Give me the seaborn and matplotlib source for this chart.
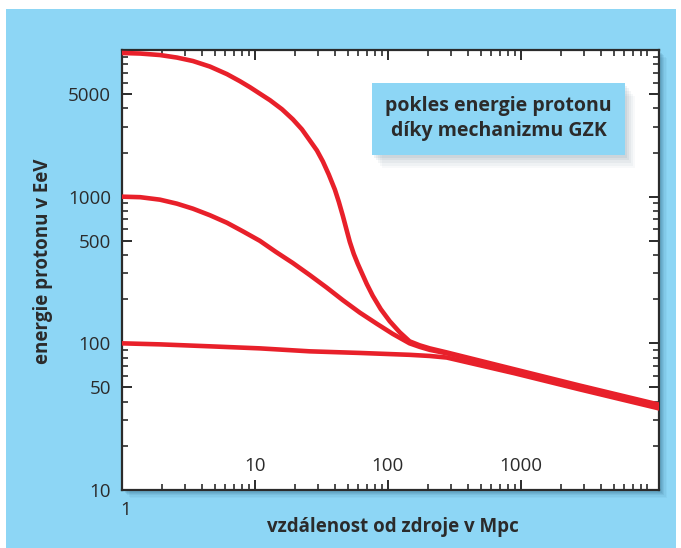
import matplotlib
matplotlib.use("Agg")
import matplotlib.pyplot as plt
import matplotlib.patches as mpatches
import matplotlib.transforms as mtransforms
import seaborn as sns
import numpy as np
import pandas as pd

# hodnoty (vzdálenost v Mpc, energie v EeV)
dist_top = [1, 1.37, 1.93, 2.59, 3.42, 4.59, 6.16, 7.71, 9.17, 10.9, 13, 16, 19.3,
            22.6, 25.9, 29.3, 32.5, 36, 40, 42.8, 45.9, 49.2, 51.8, 55.5, 59.5,
            63.8, 69.5, 77.1, 88.6, 103.5, 123, 146, 174, 207, 278, 900, 2770, 11000]
e_top = [9540, 9460, 9240, 8880, 8410, 7710, 6850, 6130, 5580, 5040, 4545, 3944, 3369,
         2877, 2419, 2066, 1737, 1415, 1117, 924, 741, 585, 492, 407, 348,
         302, 254, 211, 171, 141.5, 119, 103.2, 96.9, 92.4, 86.7, 66.5, 51.6, 38.2]

dist_mid = [1, 1.37, 1.93, 2.59, 3.42, 4.59, 6.16, 8.13, 10.9, 14.4, 19.3, 25.9,
            34.7, 45.9, 61.6, 82.7, 109, 146, 174, 207, 278, 900, 2770, 11000]
e_mid = [1000, 992, 954, 896, 828, 747, 664, 580, 500, 420, 353, 292,
         240, 197, 162, 136, 116, 100, 94.6, 90.3, 85.5, 65.5, 50.8, 37.6]

dist_low = [1, 1.93, 4.6, 10.9, 25.9, 61.6, 146, 207, 278, 900, 2770, 11000]
e_low = [100, 98.4, 95.4, 92.4, 88.2, 86, 83.5, 82, 80, 62.5, 48.6, 36.0]

x_ticks = [10, 100, 1000]
y_ticks = [10, 50, 100, 500, 1000, 5000]

BLUE = "#8dd6f5"
RED = "#e8202a"
INK = "#2b2b2b"

df = pd.concat([
    pd.DataFrame({"dist": dist_top, "energy": e_top, "start": "10000"}),
    pd.DataFrame({"dist": dist_mid, "energy": e_mid, "start": "1000"}),
    pd.DataFrame({"dist": dist_low, "energy": e_low, "start": "100"}),
])

sns.set_style("ticks")
plt.rcParams["font.family"] = ["Open Sans", "DejaVu Sans"]

fig = plt.figure(figsize=(6.81, 5.48), dpi=100)
fig.patch.set_facecolor("white")

# modré pozadí
fig.patches.append(mpatches.Rectangle((6 / 681, 0), 670 / 681, 539 / 548,
                                      transform=fig.transFigure, facecolor=BLUE,
                                      edgecolor="none", zorder=-10))

ax_box = [122 / 681, 1 - 490 / 548, 537 / 681, 440 / 548]

# stín pod grafem
for i, a in enumerate([0.10, 0.10, 0.09, 0.08, 0.06, 0.04]):
    off = (i + 1) * 1.3
    fig.patches.append(mpatches.Rectangle(
        (ax_box[0] + off / 681, ax_box[1] - off / 548), ax_box[2], ax_box[3],
        transform=fig.transFigure, facecolor="#1d4f6e", alpha=a,
        edgecolor="none", zorder=-5))

ax = fig.add_axes(ax_box)
ax.set_facecolor("white")

sns.lineplot(data=df, x="dist", y="energy", hue="start",
             palette=[RED, RED, RED], estimator=None, sort=False,
             linewidth=3.3, legend=False, ax=ax, zorder=3)
for ln in ax.get_lines():
    ln.set_solid_joinstyle("round")
    ln.set_solid_capstyle("round")

ax.set_xscale("log")
ax.set_yscale("log")
ax.set_xlim(1, 11000)
ax.set_ylim(10, 10000)

for s in ax.spines.values():
    s.set_visible(True)
    s.set_color(INK)
    s.set_linewidth(1.6)

ax.set_xticks(x_ticks)
ax.set_xticklabels([str(v) for v in x_ticks])
ax.set_yticks(y_ticks)
ax.set_yticklabels([str(v) for v in y_ticks])
ax.xaxis.set_minor_locator(matplotlib.ticker.LogLocator(base=10, subs=np.arange(2, 10)))
ax.yaxis.set_minor_locator(matplotlib.ticker.LogLocator(base=10, subs=np.arange(2, 10)))
ax.xaxis.set_minor_formatter(matplotlib.ticker.NullFormatter())
ax.yaxis.set_minor_formatter(matplotlib.ticker.NullFormatter())

ax.tick_params(which="both", direction="in", top=True, right=True, color=INK,
               labelcolor=INK, labelsize=13.5)
ax.tick_params(which="major", length=7, width=1.4)
ax.tick_params(which="minor", length=4, width=1.2)
ax.tick_params(axis="x", pad=-24)
ax.tick_params(axis="y", pad=8)

# popisek "1" pod osou
ax.text(1.06, -0.025, "1", transform=mtransforms.blended_transform_factory(ax.transData, ax.transAxes),
        ha="center", va="top", fontsize=13.5, color=INK)

ax.set_xlabel("vzdálenost od zdroje v Mpc", fontsize=13.5, fontweight="bold", color=INK)
ax.set_ylabel("energie protonu v EeV", fontsize=13.5, fontweight="bold", color=INK)
ax.xaxis.set_label_coords(0.505, -0.062)
ax.yaxis.set_label_coords(-0.128, 0.52)

# rámeček s nadpisem
bx0, by0, bw, bh = 0.4655, 0.761, 0.4712, 0.164
for i, a in enumerate([0.07, 0.06, 0.05, 0.04, 0.03]):
    off = (i + 1) * 0.006
    ax.add_patch(mpatches.Rectangle((bx0 + off * 0.6, by0 - off), bw, bh,
                                    transform=ax.transAxes, facecolor="#2a4f66",
                                    alpha=a, edgecolor="none", zorder=4))
ax.add_patch(mpatches.Rectangle((bx0, by0), bw, bh, transform=ax.transAxes,
                                facecolor=BLUE, edgecolor="none", zorder=5))
ax.text(bx0 + bw / 2, 0.845, "pokles energie protonu\ndíky mechanizmu GZK",
        transform=ax.transAxes, ha="center", va="center", fontsize=14,
        fontweight="bold", color=INK, linespacing=1.35, zorder=6)

fig.savefig("out.png", dpi=100, facecolor=fig.get_facecolor())
